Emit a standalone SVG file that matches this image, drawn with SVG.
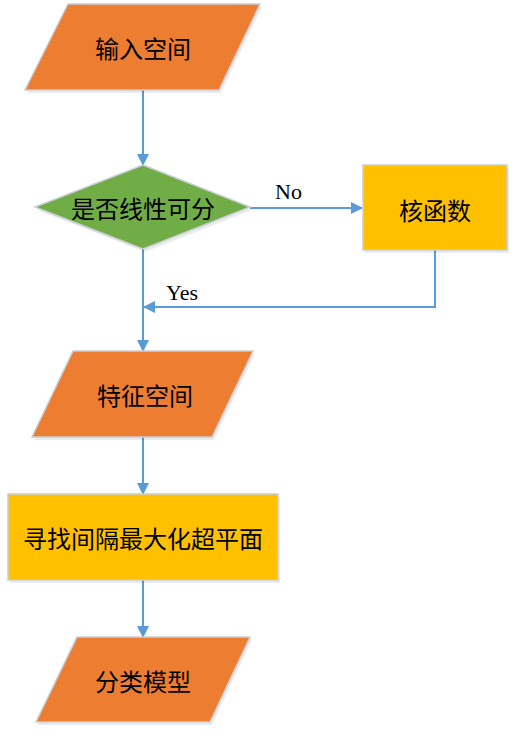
<svg xmlns="http://www.w3.org/2000/svg" width="516" height="736" viewBox="0 0 516 736">
<style>
.orange{fill:#ED7D31;stroke:#C9CED6;stroke-width:1.5}
.green{fill:#70AD47;stroke:#C9CED6;stroke-width:1.5}
.yellow{fill:#FFC000;stroke:#C9CED6;stroke-width:1.5}
.shadow{fill:#000;opacity:0.08}
.t{font-family:"Microsoft YaHei","Noto Sans CJK SC",sans-serif;font-size:24px;fill:#000;text-anchor:middle;dominant-baseline:central}
.lbl{font-family:"Liberation Serif","Times New Roman",serif;font-size:22px;fill:#000}
.conn{fill:none;stroke:#5B9BD5;stroke-width:2}
</style>
<defs>
<marker id="arr" markerWidth="12" markerHeight="12" refX="11" refY="6" orient="auto" markerUnits="userSpaceOnUse">
<path d="M0,0 L12,6 L0,12 Z" fill="#5B9BD5"/>
</marker>
</defs>
<g id="connectors">
<path class="conn" d="M143,90 V165" marker-end="url(#arr)"/>
<path class="conn" d="M250,208 H362" marker-end="url(#arr)"/>
<path class="conn" d="M435,250 V307 H144" marker-end="url(#arr)"/>
<path class="conn" d="M143,249 V351" marker-end="url(#arr)"/>
<path class="conn" d="M143,437 V494" marker-end="url(#arr)"/>
<path class="conn" d="M143,580 V637" marker-end="url(#arr)"/>
<text class="lbl" x="275" y="199">No</text>
<text class="lbl" x="166" y="300">Yes</text>
</g>
<g id="input">
<polygon class="shadow" points="70,7 262,7 221,93 27,93"/>
<polygon class="orange" points="68,4 260,4 219,90 25,90"/>
<text class="t" x="143" y="47">输入空间</text>
</g>
<g id="decision">
<polygon class="shadow" points="145,168 252,210 145,252 37,210"/>
<polygon class="green" points="143,165 250,207 143,249 35,207"/>
<text class="t" x="143" y="207">是否线性可分</text>
</g>
<g id="kernel">
<rect class="shadow" x="365" y="168" width="144" height="85"/>
<rect class="yellow" x="363" y="165" width="144" height="85"/>
<text class="t" x="435" y="209">核函数</text>
</g>
<g id="feature">
<polygon class="shadow" points="75,354 255,354 214,440 34,440"/>
<polygon class="orange" points="73,351 253,351 212,437 32,437"/>
<text class="t" x="145" y="394">特征空间</text>
</g>
<g id="hyperplane">
<rect class="shadow" x="10" y="497" width="270" height="86"/>
<rect class="yellow" x="8" y="494" width="270" height="86"/>
<text class="t" x="143" y="537">寻找间隔最大化超平面</text>
</g>
<g id="model">
<polygon class="shadow" points="79,640 252,640 212,725 38,725"/>
<polygon class="orange" points="77,637 250,637 210,722 36,722"/>
<text class="t" x="143" y="680">分类模型</text>
</g>
</svg>
